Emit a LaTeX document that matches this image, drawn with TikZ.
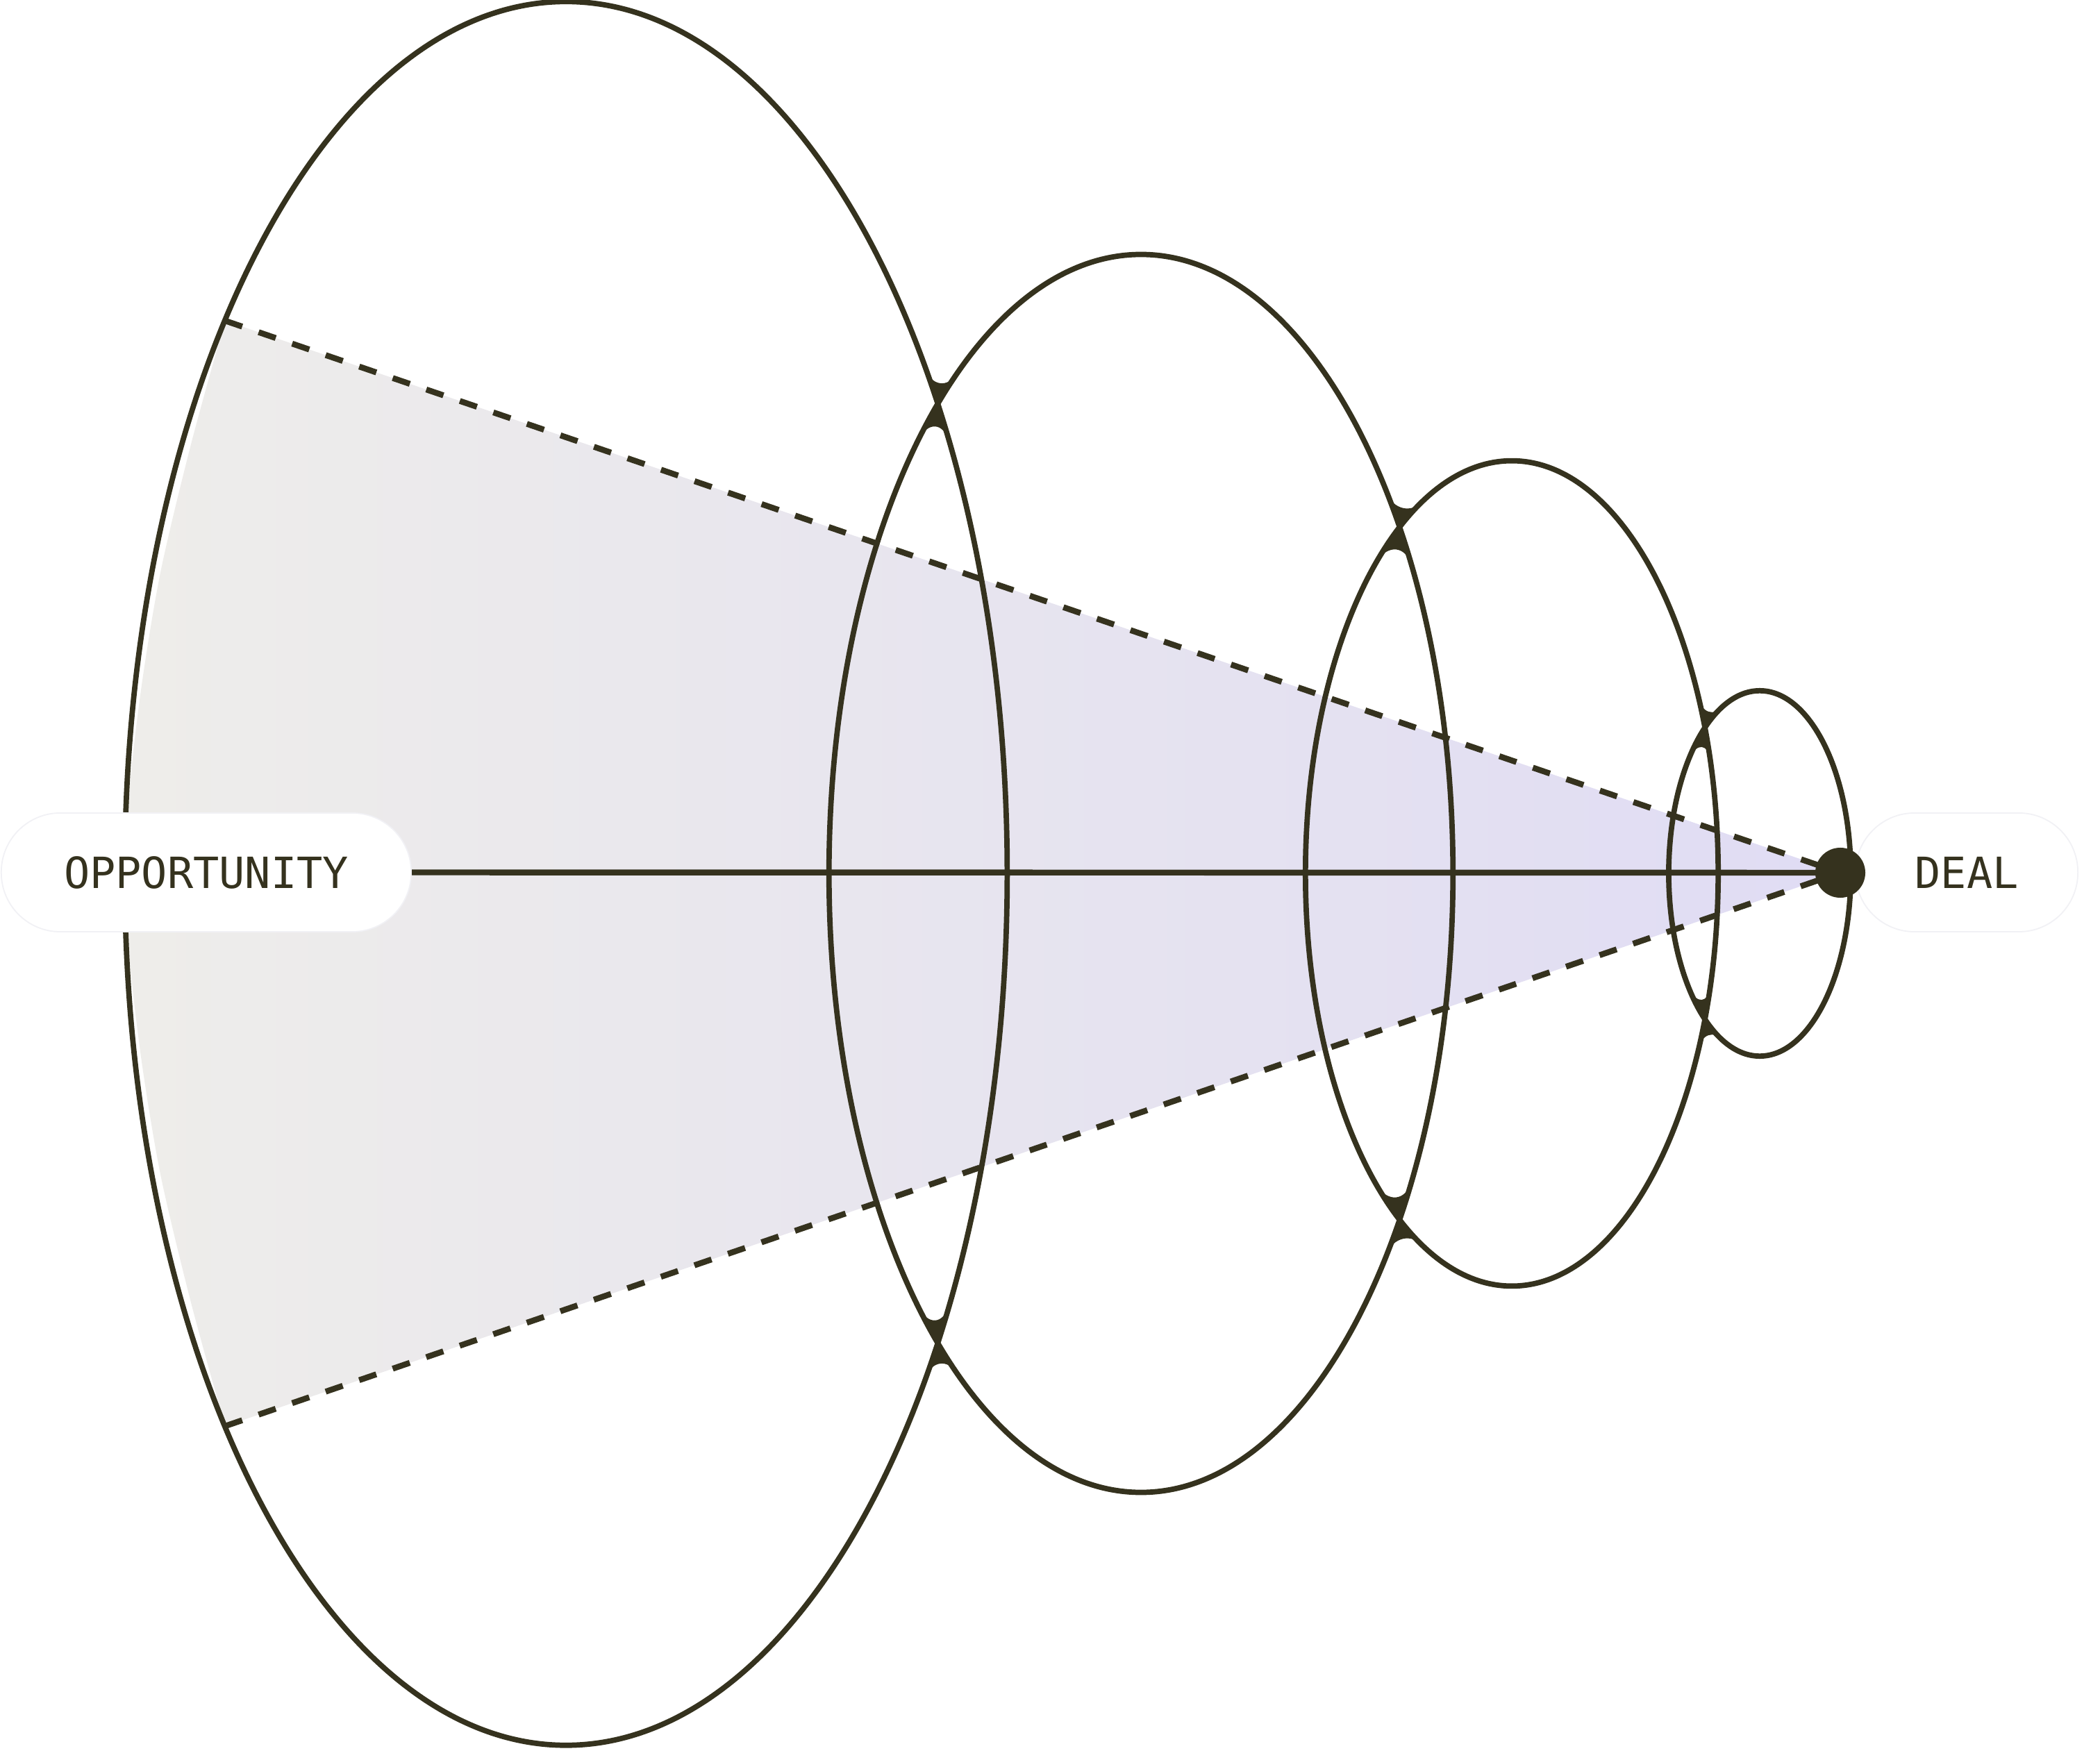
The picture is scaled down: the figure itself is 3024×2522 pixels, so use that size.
\documentclass[tikz,border=0pt]{standalone}
\usepackage{fontspec}
\newfontfamily\pillfont{DejaVu Sans Mono}
\usetikzlibrary{calc}
\definecolor{ink}{HTML}{35321E}
\definecolor{fillL}{HTML}{EEEDEA}
\definecolor{fillR}{HTML}{E0DCF4}
\definecolor{pillline}{HTML}{F1F1F5}
% ellipse parameters (px, y downwards)
\def\ecxA{815}\def\erxA{635}\def\eryA{1255}
\def\ecxB{1643}\def\erxB{449}\def\eryB{891}
\def\ecxC{2177}\def\erxC{297}\def\eryC{594}
\def\ecxD{2534}\def\erxD{131}\def\eryD{263}
\newcommand\ellpt[3]{\coordinate (#3) at ({\csname ecx#1\endcsname+\csname erx#1\endcsname*cos(#2)},{1258+\csname ery#1\endcsname*sin(#2)});}
\newcommand\pinch[6]{%
  \ellpt{#1}{#2}{pp}%
  \ellpt{#1}{(#2)-(#3)}{la}\ellpt{#4}{(#5)+(#6)}{ra}%
  \ellpt{#1}{(#2)+(#3)}{lb}\ellpt{#4}{(#5)-(#6)}{rb}%
  \fill[ink] (pp) -- (la) .. controls ($(la)!0.5!(pp)$) and ($(ra)!0.5!(pp)$) .. (ra) -- cycle;
  \fill[ink] (pp) -- (lb) .. controls ($(lb)!0.5!(pp)$) and ($(rb)!0.5!(pp)$) .. (rb) -- cycle;
}
\tikzset{
  stroke/.style={draw=ink, line width=2.2pt},
  dashline/.style={draw=ink, line width=2.4pt, dash pattern=on 0.26cm off 0.25cm},
  pill/.style={rectangle, rounded corners=0.85cm, fill=white, draw=pillline, line width=0.5pt,
    minimum height=1.71cm, inner sep=0pt, text=ink, font=\pillfont\fontsize{17.6pt}{20pt}\selectfont},
}
\begin{document}
\begin{tikzpicture}[x=0.01cm, y=-0.01cm]
\fill[white] (0,0) rectangle (3024,2522);
\path[use as bounding box] (0,0) rectangle (3024,2522);
\coordinate (dc) at (2650,1257);
\ellpt{A}{-140.63}{ta}
\ellpt{A}{140.63}{tb}
% shaded cone
\shade[left color=fillL, right color=fillR] (ta) -- (dc) -- (tb)
  -- plot[smooth] coordinates {(324,2054) (275,1876) (232,1696) (205,1536) (187,1386) (180,1258) (187,1130) (205,980) (232,820) (275,640) (324,462)} -- cycle;
% ellipses
\draw[stroke] (\ecxA,1258) ellipse [x radius=6.35cm, y radius=12.55cm];
\draw[stroke] (\ecxB,1258) ellipse [x radius=4.49cm, y radius=8.91cm];
\draw[stroke] (\ecxC,1258) ellipse [x radius=2.97cm, y radius=5.94cm];
\draw[stroke] (\ecxD,1258) ellipse [x radius=1.31cm, y radius=2.63cm];
% pinched junctions
\pinch{A}{-32.59}{2.835}{B}{-130.68}{4.679}
\pinch{A}{32.59}{2.835}{B}{130.68}{4.679}
\pinch{B}{-34.00}{4.038}{C}{-123.0}{7.718}
\pinch{B}{34.00}{4.038}{C}{123.0}{7.718}
\pinch{C}{-20.66}{4.559}{D}{-127.15}{13.57}
\pinch{C}{20.66}{4.559}{D}{127.15}{13.57}
% dashed edges
\draw[dashline] (ta) -- (dc);
\draw[dashline] (tb) -- (dc);
% labels
\node[pill, minimum width=5.90cm] (opp) at (297,1256.5) {OPPORTUNITY};
\node[pill, minimum width=3.20cm] (deal) at (2832,1256.5) {DEAL};
% axis and dot
\draw[draw=ink, line width=2.4pt] (opp.east) -- (dc);
\node[circle, fill=ink, minimum size=0.72cm, inner sep=0pt] (dot) at (dc) {};
\end{tikzpicture}
\end{document}
